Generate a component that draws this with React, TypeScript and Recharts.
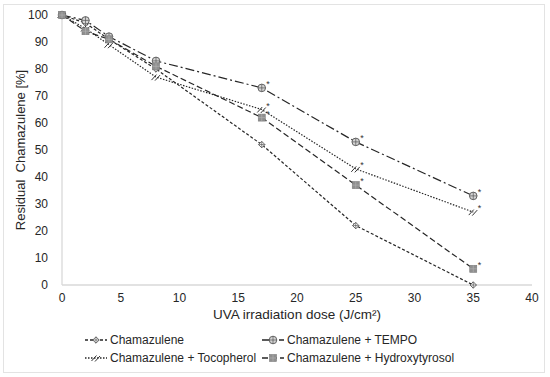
import React from 'react';
import { LineChart, Line, XAxis, YAxis } from 'recharts';

const doses = [0, 2, 4, 8, 17, 25, 35];
const chamazulene = [100, 97, 91, 80, 52, 22, 0];
const tempo = [100, 98, 92, 83, 73, 53, 33];
const tocopherol = [100, 95, 89, 77, 65, 43, 27];
const hydroxytyrosol = [100, 94, 91, 81, 62, 37, 6];
const starredDoses = [17, 25, 35];
const xTicks = [0, 5, 10, 15, 20, 25, 30, 35, 40];
const yTicks = [0, 10, 20, 30, 40, 50, 60, 70, 80, 90, 100];

const data = doses.map((d, i) => ({
    dose: d,
    cham: chamazulene[i],
    tempo: tempo[i],
    toco: tocopherol[i],
    hydroxy: hydroxytyrosol[i],
}));

const ink = '#262626';
const font = 'Arial, "Liberation Sans", sans-serif';

// marker shapes, one per series
function Marker({ kind, cx, cy }: { kind: string; cx: number; cy: number }) {
    if (kind === 'cham') {
        return (
            <g>
                <polygon points={`${cx},${cy - 3.2} ${cx + 3.2},${cy} ${cx},${cy + 3.2} ${cx - 3.2},${cy}`} fill="#fff" stroke="#555" strokeWidth={0.9} />
                <line x1={cx - 3.2} y1={cy} x2={cx + 3.2} y2={cy} stroke="#555" strokeWidth={0.7} />
                <line x1={cx} y1={cy - 3.2} x2={cx} y2={cy + 3.2} stroke="#555" strokeWidth={0.7} />
            </g>
        );
    }
    if (kind === 'tempo') {
        return (
            <g>
                <circle cx={cx} cy={cy} r={3.8} fill="#d4d4d4" stroke="#555" strokeWidth={0.9} />
                <line x1={cx - 3.8} y1={cy} x2={cx + 3.8} y2={cy} stroke="#555" strokeWidth={0.7} />
                <line x1={cx} y1={cy - 3.8} x2={cx} y2={cy + 3.8} stroke="#555" strokeWidth={0.7} />
            </g>
        );
    }
    if (kind === 'toco') {
        return (
            <g stroke="#333" strokeWidth={1}>
                <line x1={cx - 4.5} y1={cy + 3} x2={cx + 0.5} y2={cy - 2.5} />
                <line x1={cx - 1} y1={cy + 3.5} x2={cx + 4} y2={cy - 2} />
            </g>
        );
    }
    return (
        <g>
            <rect x={cx - 3.5} y={cy - 3.5} width={7} height={7} fill="#8f8f8f" stroke="#7a7a7a" strokeWidth={0.6} />
            <line x1={cx - 3.5} y1={cy} x2={cx + 3.5} y2={cy} stroke="#b5b5b5" strokeWidth={0.6} />
            <line x1={cx} y1={cy - 3.5} x2={cx} y2={cy + 3.5} stroke="#b5b5b5" strokeWidth={0.6} />
        </g>
    );
}

function makeDot(kind: string, starred: boolean) {
    return (props: any) => {
        const { cx, cy, payload, index } = props;
        if (cx == null || cy == null) return <g key={index} />;
        const star = starred && starredDoses.includes(payload.dose);
        return (
            <g key={`${kind}-${index}`}>
                <Marker kind={kind} cx={cx} cy={cy} />
                {star && (
                    <text x={cx + 4.5} y={cy - 1} fontSize={9} fill="#333" fontFamily={font}>*</text>
                )}
            </g>
        );
    };
}

const series = [
    { key: 'cham', name: 'Chamazulene', dash: '3 2', starred: false },
    { key: 'tempo', name: 'Chamazulene + TEMPO', dash: '9 3 2 3', starred: true },
    { key: 'toco', name: 'Chamazulene + Tocopherol', dash: '1.5 1.5', starred: true },
    { key: 'hydroxy', name: 'Chamazulene + Hydroxytyrosol', dash: '6 3', starred: true },
];

function LegendItem({ s, left, top }: { s: typeof series[number]; left: number; top: number }) {
    return (
        <div style={{ position: 'absolute', left, top, display: 'flex', alignItems: 'center', fontSize: 12, fontFamily: font, color: ink, whiteSpace: 'nowrap' }}>
            <svg width={22} height={12} style={{ marginRight: 3 }}>
                <line x1={0} y1={6} x2={22} y2={6} stroke={ink} strokeWidth={1.3} strokeDasharray={s.dash} />
                <Marker kind={s.key} cx={11} cy={6} />
            </svg>
            {s.name}
        </div>
    );
}

function YLabel() {
    return (
        <text x={22} y={150} transform="rotate(-90, 22, 150)" textAnchor="middle" dominantBaseline="middle" fill={ink} fontSize={13} fontFamily={font} style={{ whiteSpace: 'pre' }}>
            {'Residual\u00a0\u00a0Chamazulene [%]'}
        </text>
    );
}

export default function App() {
    return (
        <div style={{ position: 'absolute', left: 0, top: 0, width: 550, height: 377, background: '#fff' }}>
            <div style={{ position: 'absolute', left: 3, top: 4, width: 540, height: 367, border: '1px solid #e3e3e3' }} />
            <LineChart width={550} height={377} data={data} margin={{ top: 15, right: 18, bottom: 0, left: 0 }} style={{ position: 'absolute', left: 0, top: 0 }}>
                <XAxis
                    dataKey="dose"
                    type="number"
                    domain={[0, 40]}
                    ticks={xTicks}
                    height={92}
                    tickLine={false}
                    tickSize={0}
                    tickMargin={8}
                    axisLine={{ stroke: '#d9d9d9', strokeWidth: 1.3 }}
                    tick={{ fill: ink, fontSize: 12, fontFamily: font }}
                    label={{ value: 'UVA irradiation dose (J/cm²)', position: 'insideTop', offset: 24, fill: ink, fontSize: 13.5, fontFamily: font }}
                />
                <YAxis
                    type="number"
                    domain={[0, 100]}
                    ticks={yTicks}
                    width={62}
                    tickLine={false}
                    tickSize={0}
                    tickMargin={14}
                    axisLine={{ stroke: '#d9d9d9', strokeWidth: 1.3 }}
                    tick={{ fill: ink, fontSize: 12, fontFamily: font }}
                    label={{ content: () => <YLabel /> }}
                />
                {series.map((s) => (
                    <Line
                        key={s.key}
                        type="linear"
                        dataKey={s.key}
                        name={s.name}
                        stroke={ink}
                        strokeWidth={1.2}
                        strokeDasharray={s.dash}
                        dot={makeDot(s.key, s.starred)}
                        activeDot={false}
                        isAnimationActive={false}
                    />
                ))}
            </LineChart>
            <LegendItem s={series[0]} left={85} top={333} />
            <LegendItem s={series[1]} left={262} top={333} />
            <LegendItem s={series[2]} left={85} top={351} />
            <LegendItem s={series[3]} left={262} top={351} />
        </div>
    );
}
